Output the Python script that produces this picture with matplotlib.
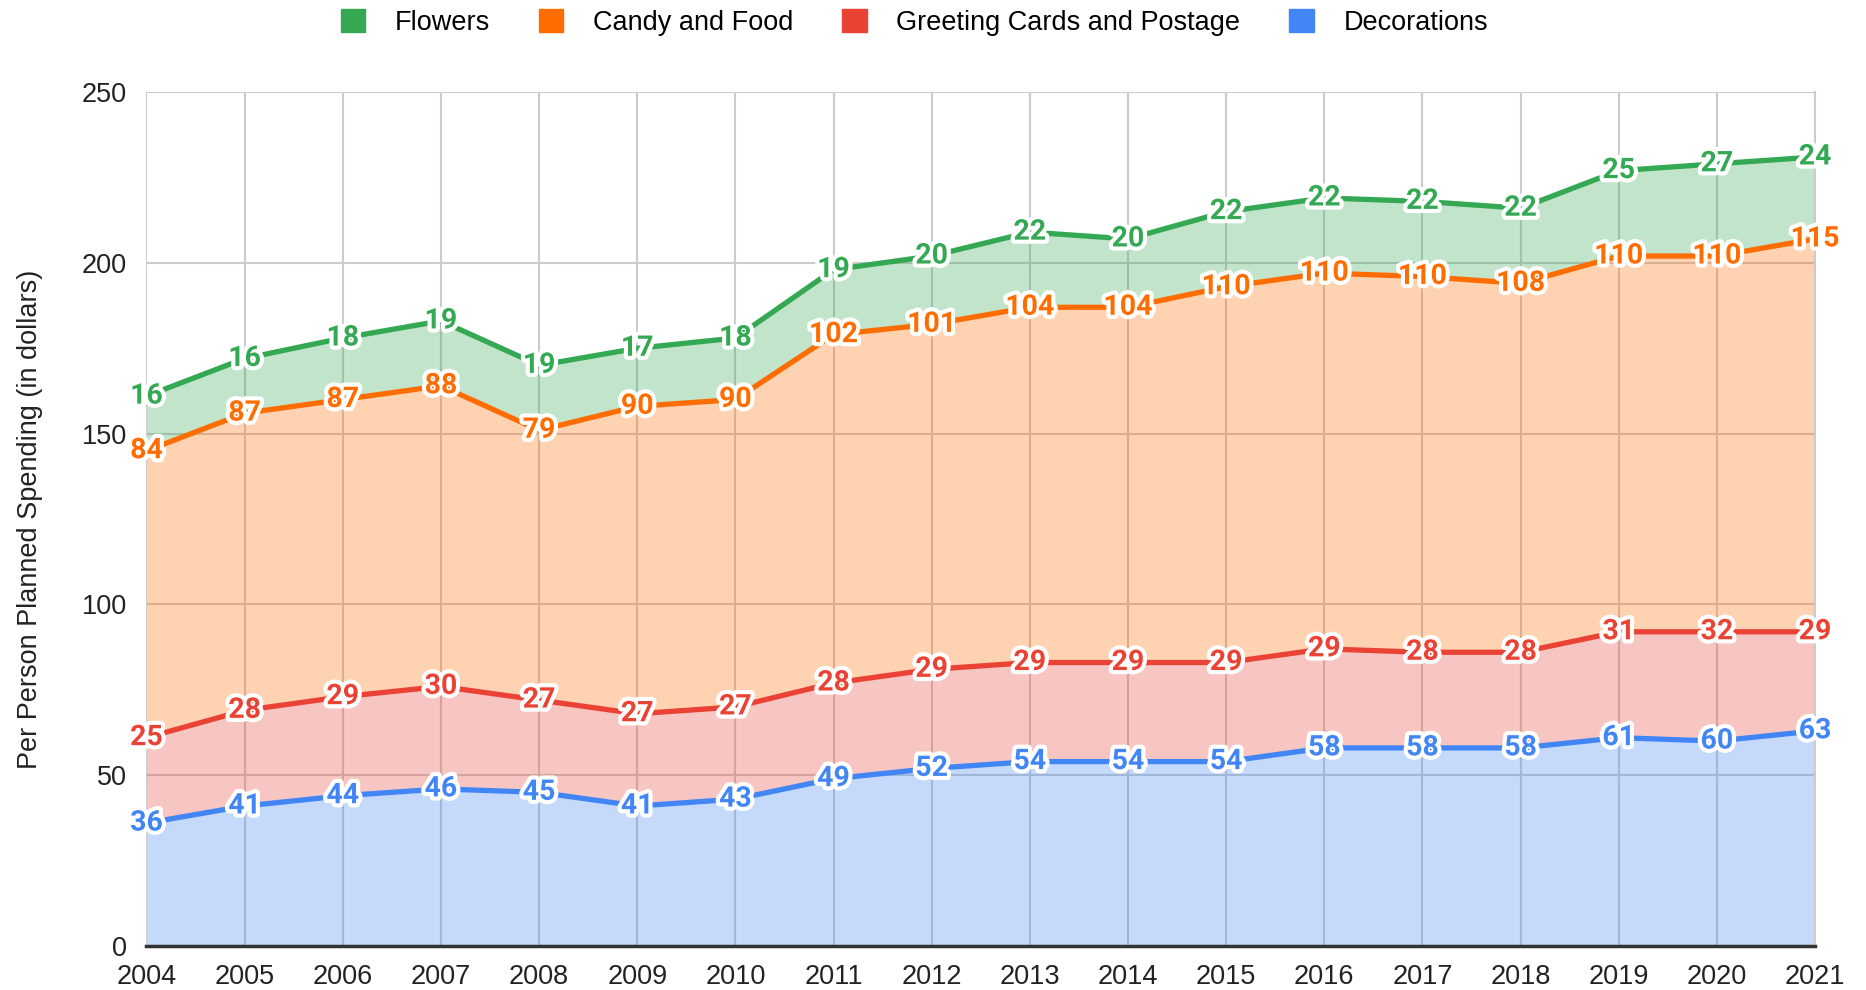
import numpy as np
import matplotlib.pyplot as plt
import matplotlib.patheffects as pe
from matplotlib.patches import Patch

plt.rcParams['font.family'] = ['Liberation Sans', 'DejaVu Sans']

years = list(range(2004, 2022))
decorations = [36, 41, 44, 46, 45, 41, 43, 49, 52, 54, 54, 54, 58, 58, 58, 61, 60, 63]
greeting = [25, 28, 29, 30, 27, 27, 27, 28, 29, 29, 29, 29, 29, 28, 28, 31, 32, 29]
candy = [84, 87, 87, 88, 79, 90, 90, 102, 101, 104, 104, 110, 110, 110, 108, 110, 110, 115]
flowers = [16, 16, 18, 19, 19, 17, 18, 19, 20, 22, 20, 22, 22, 22, 22, 25, 27, 24]

series = [
    ("Decorations", decorations, "#4285F4"),
    ("Greeting Cards and Postage", greeting, "#EA4335"),
    ("Candy and Food", candy, "#FF6D01"),
    ("Flowers", flowers, "#34A853"),
]

fig = plt.figure(figsize=(18.66, 9.9), dpi=100)
ax = fig.add_axes([0.0785, 0.0444, 0.8942, 0.8626])

x = np.array(years)
base = np.zeros(len(years))
for name, vals, color in series:
    top = base + np.array(vals)
    ax.fill_between(x, base, top, color=color, alpha=0.3, linewidth=0, zorder=2)
    ax.plot(x, top, color=color, linewidth=3.8, zorder=3)
    for xi, yi, v in zip(x, top, vals):
        ax.text(xi, yi, str(v), color=color, fontsize=20.5, fontweight='bold',
                family='Roboto', ha='center', va='center', zorder=5,
                path_effects=[pe.withStroke(linewidth=6, foreground='white')])
    base = top

ax.set_xlim(2004, 2021)
ax.set_ylim(0, 250)
ax.set_xticks(years)
ax.set_yticks([0, 50, 100, 150, 200, 250])
ax.tick_params(axis='both', length=0, labelsize=19.5, colors='#222222')
ax.tick_params(axis='x', pad=13)
ax.tick_params(axis='y', pad=14)
ax.grid(True, color='#cccccc', linewidth=1.5, zorder=1)
ax.set_axisbelow(True)
for s in ['top', 'left']:
    ax.spines[s].set_visible(False)
ax.spines['right'].set_color('#cccccc')
ax.spines['right'].set_linewidth(1.5)
ax.spines['bottom'].set_color('#333333')
ax.spines['bottom'].set_linewidth(2.5)
ax.spines['bottom'].set_zorder(4)

ax.set_ylabel("Per Person Planned Spending (in dollars)", fontsize=19.5, color='#222222', labelpad=28)

handles = [Patch(facecolor=c, edgecolor=c, label=n) for n, _, c in reversed(series)]
fig.legend(handles=handles, loc='center', bbox_to_anchor=(0.49, 0.977), ncol=4,
           frameon=False, fontsize=19.5, handlelength=0.9, handleheight=0.9,
           columnspacing=1.8, handletextpad=1.1)

fig.savefig("out.png", dpi=100)
